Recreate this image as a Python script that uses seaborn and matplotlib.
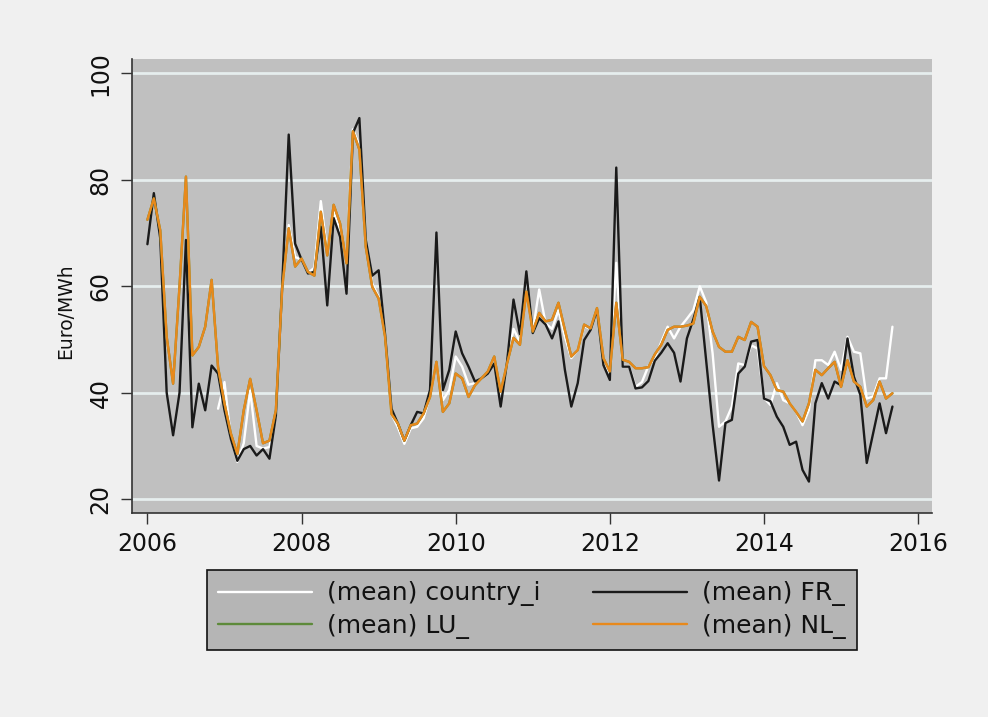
import numpy as np
import pandas as pd
import matplotlib
matplotlib.use("Agg")
import matplotlib.pyplot as plt
import seaborn as sns

# ── monthly averages, Jan 2006 .. Sep 2015 ─────────────────────
fr_ = [67.9, 77.5, 69.0, 40.0, 32.0, 40.0, 68.7, 33.5, 41.7, 36.7, 45.1, 43.6,
       36.7, 31.3, 27.2, 29.4, 30.0, 28.2, 29.4, 27.6, 35.7, 60.5, 88.5, 68.0,
       65.0, 62.4, 62.7, 71.2, 56.4, 72.8, 69.3, 58.6, 88.8, 91.6, 68.7, 62.0,
       63.0, 51.0, 37.0, 34.2, 31.0, 33.9, 36.4, 36.1, 40.5, 70.1, 40.5, 44.3,
       51.5, 47.4, 44.9, 42.1, 42.7, 43.6, 45.5, 37.4, 45.8, 57.5, 51.0, 62.8,
       51.2, 54.0, 52.8, 50.2, 53.4, 44.3, 37.4, 41.8, 49.9, 51.8, 55.6, 45.2,
       42.4, 82.3, 44.9, 44.9, 40.8, 41.0, 42.2, 46.0, 47.5, 49.3, 47.5, 42.1,
       50.2, 53.8, 58.0, 46.0, 34.0, 23.5, 34.3, 34.9, 43.6, 44.9, 49.6, 49.9,
       38.9, 38.4, 35.5, 33.6, 30.2, 30.8, 25.5, 23.3, 38.0, 41.8, 38.9, 42.1,
       41.4, 50.2, 43.0, 39.6, 26.8, 32.4, 38.0, 32.4, 37.4]

nl_ = [72.5, 76.5, 70.5, 50.5, 41.7, 60.0, 80.6, 47.0, 48.6, 52.4, 61.2, 44.8,
       38.0, 32.3, 28.5, 36.7, 42.6, 36.7, 30.5, 31.0, 36.7, 59.9, 70.9, 63.7,
       65.2, 62.7, 62.0, 74.0, 65.8, 75.3, 71.8, 64.3, 89.1, 85.7, 67.4, 59.9,
       57.7, 50.5, 36.0, 34.2, 31.0, 33.9, 34.2, 36.1, 39.2, 45.8, 36.4, 38.0,
       43.6, 42.7, 39.2, 41.4, 42.7, 44.0, 46.8, 40.2, 45.5, 50.3, 49.0, 59.0,
       51.5, 55.0, 53.4, 53.7, 56.9, 51.8, 46.8, 48.0, 52.8, 52.1, 55.9, 46.5,
       44.0, 56.9, 46.2, 45.8, 44.6, 44.6, 44.8, 47.2, 49.0, 51.8, 52.4, 52.4,
       52.6, 53.0, 58.0, 56.3, 51.5, 48.6, 47.7, 47.7, 50.5, 49.9, 53.3, 52.4,
       45.0, 43.3, 40.5, 40.2, 38.0, 36.4, 34.6, 38.0, 44.3, 43.3, 44.6, 45.8,
       41.1, 46.1, 42.1, 41.1, 37.4, 38.6, 42.1, 38.9, 39.9]

# LU_ is coupled with NL_, so it is hidden beneath the orange line
lu_ = list(nl_)

country_i = [np.nan] * 11 + [
    37.0, 42.0, 31.5, 27.0, 30.5, 40.4, 30.0, 29.5, 29.8, 36.0, 60.0, 71.5, 65.5,
    65.0, 62.5, 63.5, 76.0, 66.5, 74.0, 70.5, 65.0, 89.5, 86.5, 68.0, 60.5,
    58.0, 50.5, 36.0, 33.5, 30.4, 33.3, 33.6, 35.2, 39.5, 45.5, 38.6, 40.5,
    46.8, 44.9, 41.5, 41.8, 42.7, 44.0, 46.5, 40.0, 45.5, 52.0, 49.5, 59.0,
    51.5, 59.4, 53.0, 52.0, 55.5, 50.5, 46.5, 48.0, 52.5, 52.0, 55.8, 46.0,
    43.5, 64.4, 45.0, 45.0, 41.1, 42.0, 45.0, 46.5, 49.5, 52.4, 50.2, 52.4,
    53.9, 55.5, 60.0, 57.0, 47.4, 33.6, 34.6, 37.4, 45.5, 45.2, 48.9, 48.3,
    39.0, 37.7, 41.8, 38.6, 38.0, 36.4, 33.9, 36.8, 46.1, 46.1, 45.2, 47.7,
    44.3, 50.5, 47.7, 47.4, 38.9, 39.3, 42.7, 42.7, 52.4]

dates = pd.date_range("2006-01-01", periods=len(fr_), freq="MS")
year = dates.year + (dates.month - 1) / 12

labels = ["(mean) country_i", "(mean) FR_", "(mean) LU_", "(mean) NL_"]
colors = ["#ffffff", "#1a1a1a", "#5d8a3a", "#e8891c"]

df = pd.DataFrame({"year": year, labels[0]: country_i, labels[1]: fr_,
                   labels[2]: lu_, labels[3]: nl_})
long = df.melt(id_vars="year", var_name="series", value_name="price").dropna()

# ── plot ────────────────────────────────────────────────────────
sns.set_theme(style="ticks")
plt.rcParams["font.family"] = ["DejaVu Sans"]

fig = plt.figure(figsize=(9.88, 7.17), dpi=100, facecolor="#f0f0f0")
ax = fig.add_axes([132 / 988, 1 - 513 / 717, 800 / 988, 454 / 717])
ax.set_facecolor("#c0c0c0")

sns.lineplot(data=long, x="year", y="price", hue="series", hue_order=labels,
             palette=dict(zip(labels, colors)), estimator=None, linewidth=1.7,
             ax=ax, legend=False)

ax.set_xlim(2005.8, 2016.18)
ax.set_ylim(17.4, 102.7)
ax.set_xticks(range(2006, 2017, 2))
ax.set_yticks(range(20, 101, 20))
ax.grid(axis="y", color="#e6eeee", linewidth=2)
ax.grid(axis="x", visible=False)
ax.set_axisbelow(True)

for s in ["top", "right"]:
    ax.spines[s].set_visible(False)
for s in ["left", "bottom"]:
    ax.spines[s].set_color("#333333")
    ax.spines[s].set_linewidth(1.2)

ax.tick_params(axis="both", length=8, width=1, color="#333333",
               labelsize=17, pad=6, labelcolor="#111111")
ax.tick_params(axis="y", labelrotation=90)
for t in ax.get_yticklabels():
    t.set_va("center")

ax.set_xlabel("")
ax.set_ylabel("Euro/MWh", fontsize=13.5, color="#111111")
ax.yaxis.set_label_coords(-0.071, 0.445)

handles = [plt.Line2D([], [], color=c, linewidth=1.7) for c in colors]
order = [0, 2, 1, 3]
leg = fig.legend([handles[i] for i in order], [labels[i] for i in order],
                 ncol=2, loc="upper center",
                 bbox_to_anchor=(532 / 988, 1 - 570 / 717),
                 borderaxespad=0, fontsize=18, handlelength=3.75,
                 handletextpad=0.6, columnspacing=2.1, borderpad=0.45,
                 labelspacing=0.3, fancybox=False, framealpha=1,
                 facecolor="#b5b5b5", edgecolor="#111111")
leg.get_frame().set_linewidth(1.2)
for t in leg.get_texts():
    t.set_color("#111111")

fig.savefig("out.png", dpi=100, facecolor=fig.get_facecolor())
